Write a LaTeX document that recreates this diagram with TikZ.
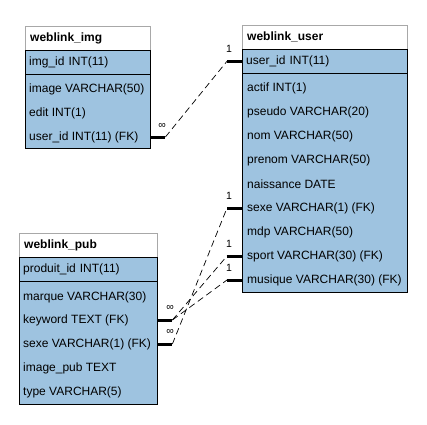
\documentclass[tikz,border=0pt]{standalone}
\usepackage{fontspec}
\setmainfont{Liberation Sans}
\usetikzlibrary{calc}
\definecolor{rowblue}{HTML}{9EC3E0}
\definecolor{titlegrey}{HTML}{A8A8A8}
\tikzset{
  every node/.style={font=\fontsize{12}{14}\selectfont},
  tabtitle/.style={draw=titlegrey, fill=white, anchor=north west, minimum height=24, inner xsep=5, inner ysep=0, align=left, font=\fontsize{12}{14}\selectfont\bfseries},
  keyrow/.style={draw=black, fill=rowblue, anchor=north west, minimum height=24, inner xsep=4, inner ysep=0, align=left},
  tabbody/.style={draw=black, fill=rowblue, anchor=north west, inner sep=0},
  field/.style={anchor=west, inner sep=0},
  stub/.style={line width=3pt},
  rel/.style={dash pattern=on 6.5pt off 4pt, line width=0.7pt},
  card/.style={font=\fontsize{10.5}{12}\selectfont, inner sep=0},
}
\begin{document}
\begin{tikzpicture}[x=1pt,y=-1pt]
\useasboundingbox (0,0) rectangle (427,424);

% ---- weblink_img ----
\node[tabtitle, text width=115] (imgT) at (25,26) {weblink\_img};
\node[keyrow, text width=117] (imgK) at (25,50) {img\_id INT(11)};
\node[tabbody, minimum width=125, minimum height=74] (imgB) at (25,74) {};
\node[field] (imgR1) at (29,89) {image VARCHAR(50)};
\node[field] (imgR2) at (29,113) {edit INT(1)};
\node[field] (imgR3) at (29,137) {user\_id INT(11) (FK)};

% ---- weblink_user ----
\node[tabtitle, text width=155] (userT) at (242,25) {weblink\_user};
\node[keyrow, text width=157] (userK) at (242,49) {user\_id INT(11)};
\node[tabbody, minimum width=165, minimum height=219] (userB) at (242,73) {};
\node[field] (uR1) at (247,88) {actif INT(1)};
\node[field] (uR2) at (247,112) {pseudo VARCHAR(20)};
\node[field] (uR3) at (247,136) {nom VARCHAR(50)};
\node[field] (uR4) at (247,160) {prenom VARCHAR(50)};
\node[field] (uR5) at (247,184) {naissance DATE};
\node[field] (uR6) at (247,208) {sexe VARCHAR(1) (FK)};
\node[field] (uR7) at (247,232) {mdp VARCHAR(50)};
\node[field] (uR8) at (247,256) {sport VARCHAR(30) (FK)};
\node[field] (uR9) at (247,280) {musique VARCHAR(30) (FK)};

% ---- weblink_pub ----
\node[tabtitle, text width=128] (pubT) at (19,233) {weblink\_pub};
\node[keyrow, text width=130] (pubK) at (19,257) {produit\_id INT(11)};
\node[tabbody, minimum width=138, minimum height=123] (pubB) at (19,281) {};
\node[field] (pR1) at (23,297) {marque VARCHAR(30)};
\node[field] (pR2) at (23,320) {keyword TEXT (FK)};
\node[field] (pR3) at (23,344) {sexe VARCHAR(1) (FK)};
\node[field] (pR4) at (23,368) {image\_pub TEXT};
\node[field] (pR5) at (23,392) {type VARCHAR(5)};

% ---- stubs ----
\draw[stub] (imgR3.west -| imgB.east) -- ++(15,0) coordinate (imgE);
\draw[stub] (pR2.west -| pubB.east) -- ++(15,0) coordinate (pE2);
\draw[stub] (pR3.west -| pubB.east) -- ++(15,0) coordinate (pE3);
\draw[stub] (userK.west) -- ++(-15,0) coordinate (uE0);
\draw[stub] (uR6.west -| userB.west) -- ++(-15,0) coordinate (uE6);
\draw[stub] (uR8.west -| userB.west) -- ++(-15,0) coordinate (uE8);
\draw[stub] (uR9.west -| userB.west) -- ++(-15,0) coordinate (uE9);

% ---- relations ----
\draw[rel] (imgE) -- (uE0);
\draw[rel] (pE3) -- (uE6);
\draw[rel] (pE2) -- (uE8);
\draw[rel] (pE2) -- (uE9);

% ---- cardinalities ----
\node[card] (k1) at (162,126) {∞};
\node[card] (k2) at (170,308) {∞};
\node[card] (k3) at (170,332) {∞};
\node[card] (o1) at (229,49) {1};
\node[card] (o2) at (229,196) {1};
\node[card] (o3) at (229,244) {1};
\node[card] (o4) at (229,268) {1};
\end{tikzpicture}
\end{document}
